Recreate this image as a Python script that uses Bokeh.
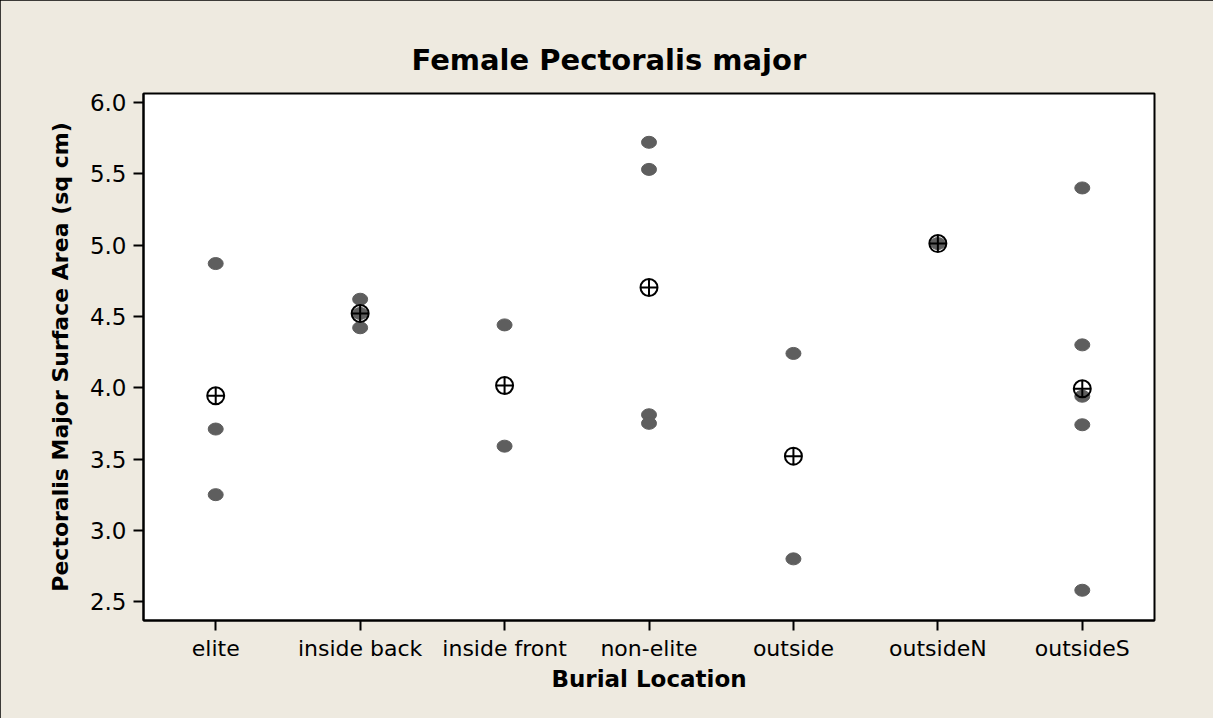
import numpy as np
from bokeh.plotting import figure
from bokeh.models import Range1d, FixedTicker, Title
from bokeh.embed import file_html
from bokeh.resources import INLINE

# ---- data ----
categories = ["elite", "inside back", "inside front", "non-elite", "outside", "outsideN", "outsideS"]
elite = [4.87, 3.71, 3.25]
inside_back = [4.62, 4.52, 4.42]
inside_front = [4.44, 3.59]
non_elite = [5.72, 5.53, 3.81, 3.75]
outside = [4.24, 2.80]
outside_n = [5.01]
outside_s = [5.40, 4.30, 3.94, 3.74, 2.58]
groups = [elite, inside_back, inside_front, non_elite, outside, outside_n, outside_s]
y_ticks = [2.5, 3.0, 3.5, 4.0, 4.5, 5.0, 5.5, 6.0]
title_text = "Female Pectoralis major"

FONT = "DejaVu Sans"
BG = "#EEEAE0"

xs, ys = [], []
for i, g in enumerate(groups):
    xs += [i] * len(g)
    ys += list(g)
mean_x = list(range(len(groups)))
mean_y = [float(np.mean(g)) for g in groups]

W, H = 1213, 718
BL, BR, BT, BB = 143, 59, 93, 98
p = figure(width=W, height=H,
           x_range=Range1d(-0.5, 6.5), y_range=Range1d(2.368, 6.062),
           output_backend="svg", toolbar_location=None,
           min_border_left=BL, min_border_right=BR,
           min_border_top=BT, min_border_bottom=BB)
p.styles = {"outline": "2px solid black", "outline-offset": "-2px"}

p.background_fill_color = "white"
p.border_fill_color = BG
p.outline_line_color = "black"
p.outline_line_width = 2
p.xgrid.visible = False
p.ygrid.visible = False

p.add_layout(Title(text=title_text, align="left", offset=268, standoff=33,
                   text_font=FONT, text_font_size="29px", text_font_style="bold",
                   text_color="black"), "above")

p.ellipse(x=xs, y=ys, width=15, height=12, width_units="screen", height_units="screen",
          fill_color="#5E5E5E", line_color="#5E5E5E")
p.scatter(x=mean_x, y=mean_y, marker="circle_cross", size=17,
          fill_color=None, line_color="black", line_width=2)

xa = p.xaxis[0]
xa.ticker = FixedTicker(ticks=list(range(len(categories))))
xa.major_label_overrides = {i: c for i, c in enumerate(categories)}
xa.axis_label = "Burial Location"
xa.major_label_standoff = 5
xa.axis_label_standoff = 2

ya = p.yaxis[0]
ya.ticker = FixedTicker(ticks=y_ticks)
ya.major_label_overrides = {t: f"{t:.1f}" for t in y_ticks}
ya.axis_label = "Pectoralis Major Surface Area (sq cm)"
ya.major_label_standoff = 7
ya.axis_label_standoff = 14

for ax in (xa, ya):
    ax.minor_tick_line_color = None
    ax.major_tick_in = 0
    ax.major_tick_out = 10
    ax.major_tick_line_width = 2
    ax.major_tick_line_color = "black"
    ax.axis_line_width = 2
    ax.axis_line_color = "black"
    ax.major_label_text_font = FONT
    ax.major_label_text_color = "black"
    ax.axis_label_text_font = FONT
    ax.axis_label_text_font_style = "bold"
    ax.axis_label_text_color = "black"
xa.major_label_text_font_size = "22px"
ya.major_label_text_font_size = "23px"
xa.axis_label_text_font_size = "23px"
ya.axis_label_text_font_size = "22px"

open("out.html", "w").write(file_html(p, INLINE))
